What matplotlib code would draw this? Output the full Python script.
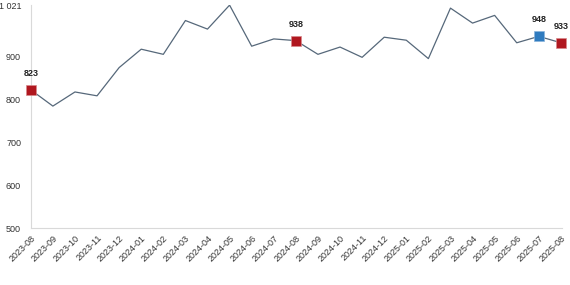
import numpy as np
import matplotlib.pyplot as plt

plt.rcParams['font.family'] = ['Liberation Sans', 'DejaVu Sans']

months = ['2023-08', '2023-09', '2023-10', '2023-11', '2023-12', '2024-01', '2024-02',
          '2024-03', '2024-04', '2024-05', '2024-06', '2024-07', '2024-08', '2024-09',
          '2024-10', '2024-11', '2024-12', '2025-01', '2025-02', '2025-03', '2025-04',
          '2025-05', '2025-06', '2025-07', '2025-08']
values = [823, 785, 818, 809, 875, 918, 906, 985, 965, 1021, 925, 942, 938, 906,
          923, 899, 946, 939, 896, 1014, 979, 997, 933, 948, 933]

red_points = [0, 12, 24]
blue_points = [23]

yticks = [500, 600, 700, 800, 900, 1021]
ytick_labels = ['500', '600', '700', '800', '900', '1 021']

fig = plt.figure(figsize=(5.7, 2.85), dpi=100)
ax = fig.add_axes([0.054, 0.2, 0.932, 0.782])

x = np.arange(len(months))
ax.plot(x, values, color='#56687a', lw=0.9, zorder=2)

for i in red_points:
    ax.plot(x[i], values[i], marker='s', ms=7, color='#b0171f',
            mec='#d8898c', mew=0.5, clip_on=False, zorder=3)
    ax.text(x[i], values[i] + 28, str(values[i]), ha='center', va='bottom',
            fontsize=6.5, fontweight='bold', color='#222222')
for i in blue_points:
    ax.plot(x[i], values[i], marker='s', ms=7, color='#2f7bbf',
            mec='#8ab4dc', mew=0.5, clip_on=False, zorder=3)
    ax.text(x[i], values[i] + 28, str(values[i]), ha='center', va='bottom',
            fontsize=6.5, fontweight='bold', color='#222222')

ax.set_xlim(0, 24.05)
ax.set_ylim(500, 1021)
ax.set_xticks(x)
ax.set_xticklabels(months, rotation=45, ha='right', rotation_mode='anchor',
                   fontsize=6.5, color='#333333')
ax.set_yticks(yticks)
ax.set_yticklabels(ytick_labels, fontsize=6.5, color='#333333')
ax.tick_params(length=0, pad=7)
ax.tick_params(axis='x', pad=4)

for s in ['top', 'right']:
    ax.spines[s].set_visible(False)
for s in ['left', 'bottom']:
    ax.spines[s].set_color('#d9d9d9')
    ax.spines[s].set_linewidth(0.8)

fig.savefig('out.png', dpi=100)
